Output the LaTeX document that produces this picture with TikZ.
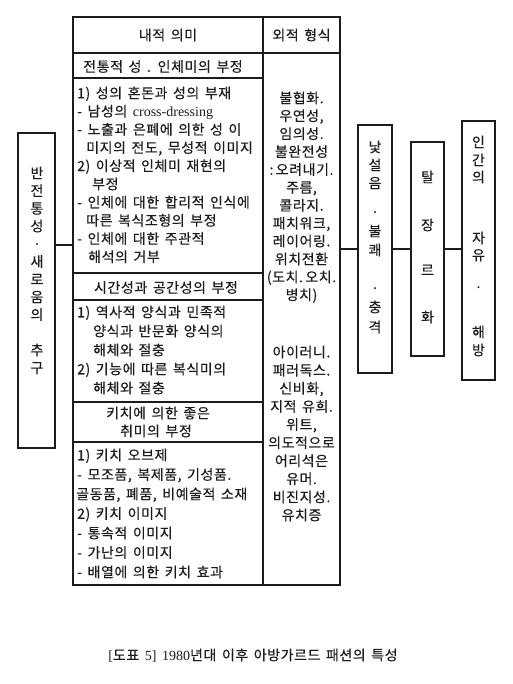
\documentclass[tikz,border=0pt]{standalone}
\usepackage{fontspec}
\setmainfont[WordSpace=1.5, LetterSpace=4, FakeBold=0.35]{Noto Sans CJK KR}
\newfontfamily\latinfont{Liberation Serif}
\usetikzlibrary{positioning, calc}
\definecolor{InkBlack}{RGB}{28, 28, 28}

\begin{document}
\begin{tikzpicture}[x=1pt, y=-1pt,
    frame/.style={draw=InkBlack, line width=1.2pt, inner sep=0pt},
    txt/.style={inner sep=0pt, text height=11.5pt, text depth=1pt, text=InkBlack, font=\fontsize{14}{14}\selectfont},
    rule/.style={draw=InkBlack, line width=1.2pt}]
  \useasboundingbox (0,0) rectangle (512,684);

  % left box
  \node[frame, minimum width=37pt, minimum height=315pt] (origin) at (36.5,290.5) {};
  \foreach \c/\y [count=\i] in {반/173, 전/190.7, 통/208.4, 성/226.1, ·/243.8, 새/261.5, 로/279.2, 움/296.9, 의/314.6, 추/350, 구/367.7}
    \node[txt] (ori\i) at (37,\y) {\c};

  % main table
  \node[frame, minimum width=267pt, minimum height=568pt] (tbl) at (206.5,301) {};
  \draw[rule] (263,17) -- (263,585);
  \draw[rule] (73,53) -- (340,53);
  \draw[rule] (73,78) -- (263,78);
  \draw[rule, line width=1.8pt] (73,273) -- (263,273);
  \draw[rule] (73,300) -- (263,300);
  \draw[rule] (73,402) -- (263,402);
  \draw[rule] (73,442) -- (263,442);

  \node[txt] (inner) at (168,35) {내적 의미};
  \node[txt] (outer) at (301.5,35) {외적 형식};
  \node[txt] (sec1) at (163,66.5) {전통적 성 . 인체미의 부정};
  \node[txt] (sec2) at (166,287.5) {시간성과 공간성의 부정};
  \node[txt] (sec3a) at (158,413) {키치에 의한 좋은};
  \node[txt] (sec3b) at (156,431) {취미의 부정};

  % inner meaning
  \foreach \x/\y/\t [count=\i] in {77/93/{1) 성의 혼돈과 성의 부재},
      77/111.2/{- 남성의 {\latinfont cross-dressing}},
      77/129.4/{- 노출과 은폐에 의한 성 이},
      86/147.6/{미지의 전도, 무성적 이미지},
      77/165.8/{2) 이상적 인체미 재현의},
      92/184/{부정},
      77/202.2/{- 인체에 대한 합리적 인식에},
      86/220.4/{따른 복식조형의 부정},
      77/238.6/{- 인체에 대한 주관적},
      88/256.8/{해석의 거부}}
    \node[txt, anchor=west] (ta\i) at (\x,\y) {\t};
  \foreach \x/\y/\t [count=\i] in {77/312/{1) 역사적 양식과 민족적},
      93/331/{양식과 반문화 양식의},
      93/350/{해체와 절충},
      77/369/{2) 기능에 따른 복식미의},
      93/388/{해체와 절충}}
    \node[txt, anchor=west] (tb\i) at (\x,\y) {\t};
  \foreach \x/\y/\t [count=\i] in {77/455/{1) 키치 오브제},
      77/474.5/{- 모조품, 복제품, 기성품.},
      76/494/{골동품, 폐품, 비예술적 소재},
      77/513.5/{2) 키치 이미지},
      77/533/{- 통속적 이미지},
      77/552.5/{- 가난의 이미지},
      77/572/{- 배열에 의한 키치 효과}}
    \node[txt, anchor=west] (tc\i) at (\x,\y) {\t};

  % outer form
  \foreach \t [count=\i] in {{불협화.}, {우연성,}, {임의성.}, {불완전성}, {:\,오려내기.}, {주름,}, {콜라지.}, {패치워크,}, {레이어링.}, {위치전환}, {(도치.\,오치.}, {병치)}}
    \node[txt] (fa\i) at (301.5,80+17.9*\i) {\t};
  \foreach \t [count=\i] in {{아이러니.}, {패러독스.}, {신비화,}, {지적 유희.}, {위트,}, {의도적으로}, {어리석은}, {유머.}, {비진지성.}, {유치증}}
    \node[txt] (fb\i) at (301.5,334+18.1*\i) {\t};

  % right boxes
  \node[frame, minimum width=34pt, minimum height=248pt] (shock) at (375,249) {};
  \foreach \c/\y [count=\i] in {낯/147, 설/165, 음/183, ·/212, 불/231, 쾌/250, ·/288, 충/307, 격/327}
    \node[txt] (sh\i) at (375,\y) {\c};
  \node[frame, minimum width=33pt, minimum height=214pt] (genre) at (427.5,249) {};
  \foreach \c/\y [count=\i] in {탈/177, 장/225, 르/270, 화/317}
    \node[txt] (ge\i) at (427.5,\y) {\c};
  \node[frame, minimum width=33pt, minimum height=259pt] (freedom) at (478.5,250.5) {};
  \foreach \c/\y [count=\i] in {인/142, 간/160, 의/177, 자/238, 유/255, ·/287, 해/332, 방/350}
    \node[txt] (fr\i) at (478.5,\y) {\c};

  % links
  \coordinate (hub) at (0,245);
  \draw[rule] (origin.east |- hub) -- (tbl.west |- hub);
  \draw[rule] (shock.west -| tbl.east) -- (shock.west);
  \draw[rule] (shock.east) -- (genre.west);
  \draw[rule] (genre.east) -- (genre.east -| freedom.west);

  % caption
  \node[txt] (caption) at (253,655) {{\latinfont [}도표 {\latinfont 5]} {\latinfont 1980}년대 이후 아방가르드 패션의 특성};
\end{tikzpicture}
\end{document}
